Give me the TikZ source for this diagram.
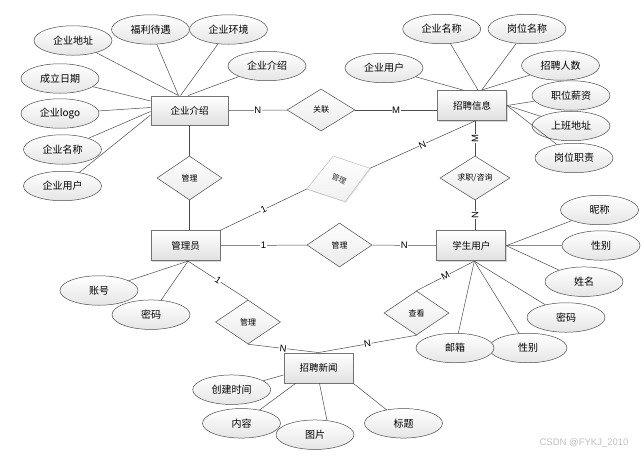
\documentclass[tikz,border=0pt]{standalone}
\usepackage{fontspec}
\setmainfont{Noto Sans CJK SC}
\newfontfamily\lab{Liberation Sans}
\usetikzlibrary{shapes.geometric,shadows}
\begin{document}
\begin{tikzpicture}[x=1pt,y=-1pt,
 ent/.style={rectangle,draw=black!55,line width=0.9pt,top color=white,bottom color=black!12,minimum width=69pt,minimum height=30pt,inner sep=0pt,font=\fontsize{9.5}{10}\selectfont,drop shadow={shadow xshift=1.2pt,shadow yshift=-1.2pt,fill=black!30}},
 attr/.style={ellipse,draw=black!70,line width=0.5pt,top color=white,bottom color=black!10,minimum width=78pt,minimum height=29.5pt,inner sep=0pt,font=\fontsize{10}{11}\selectfont},
 rel/.style={diamond,draw=black!70,line width=0.5pt,top color=white,bottom color=black!8,minimum width=65pt,minimum height=44pt,inner sep=0pt,font=\fontsize{8}{9}\selectfont},
 ln/.style={draw=black!70,line width=0.5pt},
 card/.style={fill=white,inner sep=0.5pt,font=\lab\fontsize{9.5}{10}\selectfont}
]
\fill[white] (0,0) rectangle (644,455);
\useasboundingbox (0,0) rectangle (644,455);

% entities
\node[ent,minimum width=77pt,minimum height=29pt] (qy) at (189.5,110.5) {企业介绍};
\node[ent] (zp) at (472,105.5) {招聘信息};
\node[ent] (gly) at (185.5,245.7) {管理员};
\node[ent] (xs) at (471.3,245.7) {学生用户};
\node[ent] (xw) at (318.5,368) {招聘新闻};

% relationships
\node[rel,minimum width=68pt,minimum height=42pt] (gl) at (321,110) {关联};
\node[rel] (gl1) at (189.5,178) {管理};
\node[rel,minimum width=70pt] (qz) at (475,178) {求职/咨询};
\node[rel] (gl2) at (339.5,245) {管理};
\node[rel] (gl3) at (248,322) {管理};
\node[rel] (ck) at (416.5,313) {查看};

% gray slanted diamond
\coordinate (gdW) at (306.7,189);
\coordinate (gdN) at (333.3,156);
\coordinate (gdE) at (370,168.3);
\coordinate (gdS) at (345,201.7);
\fill[black!20,opacity=0.5] ([xshift=1pt,yshift=-1pt]gdW) -- ([xshift=1pt,yshift=-1pt]gdN) -- ([xshift=1pt,yshift=-1pt]gdE) -- ([xshift=1pt,yshift=-1pt]gdS) -- cycle;
\shade[top color=white,bottom color=black!6,draw=black!25,line width=0.5pt] (gdW) -- (gdN) -- (gdE) -- (gdS) -- cycle;
\node[font=\fontsize{7.5}{8}\selectfont,text=black!80,rotate=-25,inner sep=0pt] (gd) at (339,179) {管理};

% attributes of 企业介绍
\node[attr] (a1) at (73,40.5) {企业地址};
\node[attr] (a2) at (150.5,29.5) {福利待遇};
\node[attr] (a3) at (228.5,29.5) {企业环境};
\node[attr] (a4) at (267,66) {企业介绍};
\node[attr] (a5) at (60,78.5) {成立日期};
\node[attr] (a6) at (60,113.5) {企业logo};
\node[attr] (a7) at (62.5,149.5) {企业名称};
\node[attr] (a8) at (62.5,186) {企业用户};

% attributes of 招聘信息
\node[attr] (b1) at (441.7,29) {企业名称};
\node[attr] (b2) at (527,29) {岗位名称};
\node[attr] (b3) at (384,68) {企业用户};
\node[attr] (b4) at (560.5,65.5) {招聘人数};
\node[attr] (b5) at (571,95.5) {职位薪资};
\node[attr] (b6) at (571,126) {上班地址};
\node[attr] (b7) at (574,158) {岗位职责};

% attributes of 学生用户
\node[attr] (c1) at (599.5,210) {昵称};
\node[attr] (c2) at (601,245.5) {性别};
\node[attr] (c3) at (584,281.7) {姓名};
\node[attr] (c4) at (566,317.5) {密码};
\node[attr] (c5) at (528,348) {性别};
\node[attr] (c6) at (455,348) {邮箱};

% attributes of 管理员
\node[attr] (d1) at (99,290.5) {账号};
\node[attr] (d2) at (151,314.7) {密码};

% attributes of 招聘新闻
\node[attr] (e1) at (231.7,389.7) {创建时间};
\node[attr] (e2) at (241.5,423.3) {内容};
\node[attr] (e3) at (315,434.7) {图片};
\node[attr] (e4) at (403.5,423.3) {标题};

% attribute connectors
\draw[ln] (a1) -- ([xshift=-11pt]qy.north);
\draw[ln] (a2) -- ([xshift=-11pt]qy.north);
\draw[ln] (a3) -- ([xshift=-9pt]qy.north);
\draw[ln] (a4) -- ([xshift=-1.5pt]qy.north);
\draw[ln] (a5) -- ([yshift=9.5pt]qy.west);
\draw[ln] (a6) -- ([yshift=3pt]qy.west);
\draw[ln] (a7) -- ([yshift=-1pt]qy.west);
\draw[ln] (a8) -- ([yshift=-4.5pt]qy.west);

\draw[ln] (b1) -- ([xshift=6pt]zp.north);
\draw[ln] (b2) -- ([xshift=9.7pt]zp.north);
\draw[ln] (b3) -- ([xshift=-9pt]zp.north);
\draw[ln] (b4) -- ([xshift=9.7pt]zp.north);
\draw[ln] (b5) -- (zp.east);
\draw[ln] (b6) -- (zp.east);
\draw[ln] (b7) -- (zp.east);

\draw[ln] (c1) -- (xs.east);
\draw[ln] (c2) -- (xs.east);
\draw[ln] (c3) -- (xs.east);
\draw[ln] (c4) -- ([xshift=3pt]xs.south);
\draw[ln] (c5) -- ([xshift=3pt]xs.south);
\draw[ln] (c6) -- ([xshift=3pt]xs.south);

\draw[ln] (d1) -- ([xshift=2.5pt]gly.south);
\draw[ln] (d2) -- ([xshift=2.5pt]gly.south);

\draw[ln] (e1) -- ([yshift=-7pt]xw.west);
\draw[ln] (e2) -- ([xshift=-23pt]xw.south);
\draw[ln] ([xshift=1pt]xw.south) -- (e3.50);
\draw[ln] (e4) -- (xw.south east);

% relationship connectors
\draw[ln] (qy) -- (gl) node[card,midway] {N};
\draw[ln] (gl.east) -- (gl.east -| zp.west) node[card,midway] {M};
\draw[ln] (qy.south) -- (gl1.north);
\draw[ln] (gl1.south) -- (gl1.south |- gly.north);
\draw[ln] (gly.north east) -- (gdW) node[card,midway,sloped] {1};
\draw[ln] (gdE) -- ([xshift=3pt]zp.south) node[card,midway,sloped] {N};
\draw[ln] ([xshift=3pt]zp.south) -- (qz.north) node[card,midway,rotate=90] {M};
\draw[ln] (qz.south) -- (qz.south |- xs.north) node[card,midway,rotate=90] {N};
\draw[ln] (gly.east) -- (gl2.west) node[card,midway] {1};
\draw[ln] (gl2.east) -- (xs.west) node[card,midway] {N};
\draw[ln] ([xshift=2.5pt]gly.south) -- (gl3.north) node[card,midway,sloped] {1};
\draw[ln] (gl3.south) -- (xw.north) node[card,midway,sloped] {N};
\draw[ln] (ck.south) -- (xw.north) node[card,midway,sloped] {N};
\draw[ln] (ck.north) -- ([xshift=3pt]xs.south) node[card,midway,sloped] {M};

% watermark
\node[font=\lab\fontsize{9.5}{10}\selectfont,text=black!25] (wm) at (584,443) {CSDN @FYKJ\_2010};
\end{tikzpicture}
\end{document}
